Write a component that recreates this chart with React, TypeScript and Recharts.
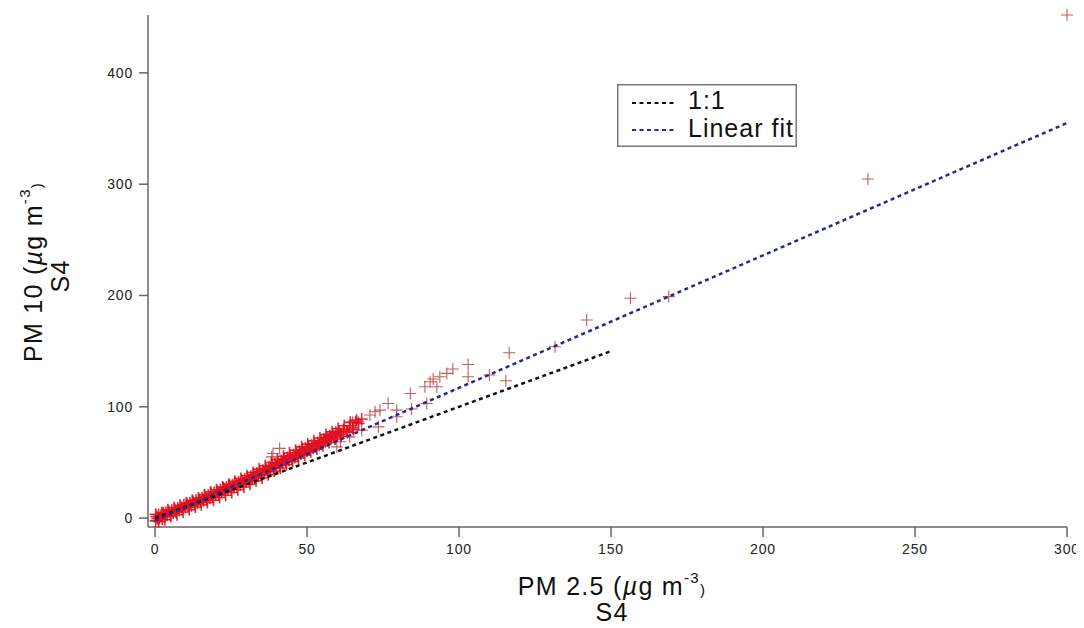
// PM10 vs PM2.5 scatter (S4): "+" markers in red, dashed 1:1 and linear-fit lines,
// boxed legend top-right. Everything in Liberation Sans to mimic the Igor look.
import React from "react";
import { ScatterChart, Scatter, XAxis, YAxis, Legend, Label } from "recharts";

const FONT = "'Liberation Sans', Arial, Helvetica, sans-serif";

// dense band near the origin: PM 2.5 (x) / PM 10 (y)
const bandX = [
  0.2, 0.5, 0.8, 1.2, 1.5, 2, 2.4, 2.8, 3.2, 3.6, 4, 4.5, 5, 5.5, 6, 6.5, 7, 7.5, 8, 8.5,
  9, 9.5, 10, 10.5, 11, 11.5, 12, 12.5, 13, 13.5, 14, 14.5, 15, 15.5, 16, 16.5, 17, 17.5,
  18, 18.5, 19, 19.5, 20, 20.5, 21, 21.5, 22, 22.5, 23, 23.5, 24, 24.5, 25, 25.5, 26, 26.5,
  27, 27.5, 28, 28.5, 29, 29.5, 30, 30.5, 31, 31.5, 32, 32.5, 33, 33.5, 34, 34.5, 35, 35.5,
  36, 36.5, 37, 37.5, 38, 38.5, 39, 39.5, 40, 40.5, 41, 41.5, 42, 42.5, 43, 43.5, 44, 44.5,
  45, 45.5, 46, 46.5, 47, 47.5, 48, 48.5, 49, 49.5, 50, 50.5, 51, 51.5, 52, 52.5, 53, 53.5,
  54, 54.5, 55, 55.5, 56, 56.5, 57, 57.5, 58, 58.5, 59, 59.5, 60, 60.5, 61, 62, 63, 64, 65,
  66, 67, 68,
  0.25, 1.25, 2.25, 3.25, 4.25, 5.25, 6.25, 7.25, 8.25, 9.25, 10.25, 11.25, 12.25, 13.25,
  14.25, 15.25, 16.25, 17.25, 18.25, 19.25, 20.25, 21.25, 22.25, 23.25, 24.25, 25.25, 26.25,
  27.25, 28.25, 29.25, 30.25, 31.25, 32.25, 33.25, 34.25, 35.25, 36.25, 37.25, 38.25, 39.25,
  40.25, 41.25, 42.25, 43.25, 44.25, 45.25, 46.25, 47.25, 48.25, 49.25, 50.25, 51.25, 52.25,
  53.25, 54.25, 55.25, 56.25, 57.25, 58.25, 59.25, 60.25, 61.25, 62.25, 63.25, 64.25, 65.25,
  66.25,
];
const bandY = [
  -2.5, 1.5, -0.5, 3, 0, 2.5, -1, 4.5, 1.5, 5, 2.5, 6, 3, 7, 4.5, 8, 5.5, 9, 7, 10.5,
  8, 12, 9.5, 13, 10.5, 13.5, 11, 15, 12.5, 16, 13.5, 17, 14.5, 18, 15.5, 19.5, 16.5, 20.5,
  18, 22, 19, 23, 20.5, 24, 21.5, 25.5, 23, 27, 24.5, 28, 25.5, 29.5, 26.5, 30, 27.5, 31.5,
  29, 32.5, 30, 34, 31.5, 35, 32.5, 36.5, 34, 37.5, 35, 39, 36.5, 40.5, 38, 42, 39, 43,
  40.5, 44.5, 42, 46, 43.5, 47.5, 45, 49, 46, 50, 47.5, 51.5, 49, 53, 50.5, 54.5, 52, 56,
  53, 57, 54.5, 58.5, 56, 60, 57.5, 61.5, 59, 63, 60, 64, 61.5, 65.5, 63, 67, 64.5, 68,
  65.5, 69.5, 67, 71, 68.5, 72.5, 70, 74, 71.5, 75.5, 73, 77, 74.5, 78, 75.5, 79.5, 78, 83, 81,
  86, 85, 89,
  3.5, -3, 5, -1.5, 7.5, 1.5, 9.5, 3, 11.5, 5.5, 13.5, 7.5, 16, 10,
  18, 12, 21, 14, 23.5, 16, 25.5, 18.5, 28, 20.5, 30.5, 23, 33,
  25.5, 35.5, 28, 38, 30.5, 41, 33.5, 44, 36, 47, 39, 50, 42,
  52.5, 45, 55.5, 48, 58.5, 51, 61, 54, 64, 56.5, 66.5, 59.5, 69.5,
  62, 72, 65, 75, 68, 77.5, 71, 80.5, 73.5, 83, 77, 86, 79.5,
  88,
];

// sparser points further out
const sparseX = [
  41, 38.4, 38.8, 59.8, 61, 64, 65, 66.8, 68, 70.7, 72.4, 74, 76.7, 79.5, 79.5, 73.5, 84.4,
  84, 89.4, 88.8, 90.5, 91.5, 92.7, 93.7, 96, 98, 103, 103, 110, 115.4, 116.5, 131.6, 142,
  156.4, 169, 234.5, 300,
];
const sparseY = [
  62.6, 55, 58, 64, 68.6, 73, 86, 86.6, 79, 92.6, 95.5, 97, 103, 97, 91, 82, 98,
  112, 103, 118, 122.5, 125, 118, 127, 130, 134, 138, 127, 128.5, 123.4, 148.5, 154, 178,
  197.5, 199, 304.7, 452,
];

const oneToOneX = [0, 150];
const oneToOneY = [0, 150];
const fitX = [0, 300];
const fitY = [-2, 355];

const xTicks = [0, 50, 100, 150, 200, 250, 300];
const yTicks = [0, 100, 200, 300, 400];

const band = bandX.map((x, i) => ({ x, y: bandY[i] }));
const sparse = sparseX.map((x, i) => ({ x, y: sparseY[i] }));
const oneToOne = oneToOneX.map((x, i) => ({ x, y: oneToOneY[i] }));
const fit = fitX.map((x, i) => ({ x, y: fitY[i] }));

const AXIS = "#666";
const BLUE = "#28288a";
const DASH = "4 3.5";

function plus(color: string, width: number, opacity: number) {
  return function Plus(props: any) {
    const { cx, cy } = props;
    if (cx == null || cy == null) return <g />;
    return (
      <path
        d={`M${cx - 6},${cy}h12M${cx},${cy - 6}v12`}
        stroke={color}
        strokeOpacity={opacity}
        strokeWidth={width}
        fill="none"
      />
    );
  };
}

const BandPlus = plus("#e0101c", 1.6, 0.9);
const SparsePlus = plus("#b8403f", 1.1, 0.85);

function NoDot() {
  return <g />;
}

function XTitle() {
  return (
    <text
      x={604}
      y={587}
      textAnchor="middle"
      fontFamily={FONT}
      fontSize={25}
      letterSpacing={1.3}
      fill="#111"
    >
      <tspan>PM 2.5 (</tspan>
      <tspan fontStyle="italic">µ</tspan>
      <tspan>g m</tspan>
      <tspan fontSize={15} dy={-12}>-3</tspan>
      <tspan fontSize={15} dy={12}>)</tspan>
      <tspan x={604} dy={26}>S4</tspan>
    </text>
  );
}

function YTitle() {
  const cx = 34;
  const cy = 264;
  return (
    <text
      x={cx}
      y={cy}
      transform={`rotate(-90, ${cx}, ${cy})`}
      textAnchor="middle"
      fontFamily={FONT}
      fontSize={25}
      letterSpacing={1.3}
      fill="#111"
    >
      <tspan>PM 10 (</tspan>
      <tspan fontStyle="italic">µ</tspan>
      <tspan>g m</tspan>
      <tspan fontSize={15} dy={-12}>-3</tspan>
      <tspan fontSize={15} dy={12}>)</tspan>
      <tspan x={cx - 4} dy={27}>S4</tspan>
    </text>
  );
}

function LegendBox() {
  return (
    <svg width={180} height={63} style={{ display: "block" }}>
      <rect x={0.75} y={0.75} width={178.5} height={61.5} fill="#fff" stroke="#777" strokeWidth={1.5} />
      <line x1={15} x2={59} y1={19} y2={19} stroke="#111" strokeWidth={2} strokeDasharray={DASH} />
      <line x1={15} x2={59} y1={46} y2={46} stroke={BLUE} strokeWidth={2} strokeDasharray={DASH} />
      <text x={71} y={25} fontFamily={FONT} fontSize={25} letterSpacing={1} fill="#111">1:1</text>
      <text x={71} y={53} fontFamily={FONT} fontSize={25} letterSpacing={1} fill="#111">Linear fit</text>
    </svg>
  );
}

const tickStyle = { fill: "#222", fontSize: 14, fontFamily: FONT, letterSpacing: 0.8 };

export default function App() {
  return (
    <ScatterChart width={1076} height={620} margin={{ top: 7, right: 17, left: 0, bottom: 0 }}>
      <XAxis
        type="number"
        dataKey="x"
        domain={[-2.3, 300]}
        ticks={xTicks}
        height={101}
        tickSize={10}
        tickMargin={7}
        stroke={AXIS}
        strokeWidth={1.5}
        tick={tickStyle}
      >
        <Label content={() => <XTitle />} />
      </XAxis>
      <YAxis
        type="number"
        dataKey="y"
        domain={[-8, 452]}
        ticks={yTicks}
        width={140}
        tickSize={9}
        tickMargin={6}
        stroke={AXIS}
        strokeWidth={1.5}
        tick={tickStyle}
      >
        <Label content={() => <YTitle />} />
      </YAxis>
      <Legend
        layout="vertical"
        align="center"
        verticalAlign="middle"
        content={() => <LegendBox />}
        wrapperStyle={{ position: "absolute", left: 609, top: 76, width: 180, height: 63 }}
      />
      <Scatter data={sparse} shape={<SparsePlus />} isAnimationActive={false} legendType="none" />
      <Scatter data={band} shape={<BandPlus />} isAnimationActive={false} legendType="none" />
      <Scatter
        data={oneToOne}
        shape={<NoDot />}
        line={{ stroke: "#111", strokeWidth: 2.5, strokeDasharray: DASH }}
        isAnimationActive={false}
        legendType="none"
      />
      <Scatter
        data={fit}
        shape={<NoDot />}
        line={{ stroke: BLUE, strokeWidth: 2.5, strokeDasharray: DASH }}
        isAnimationActive={false}
        legendType="none"
      />
    </ScatterChart>
  );
}
